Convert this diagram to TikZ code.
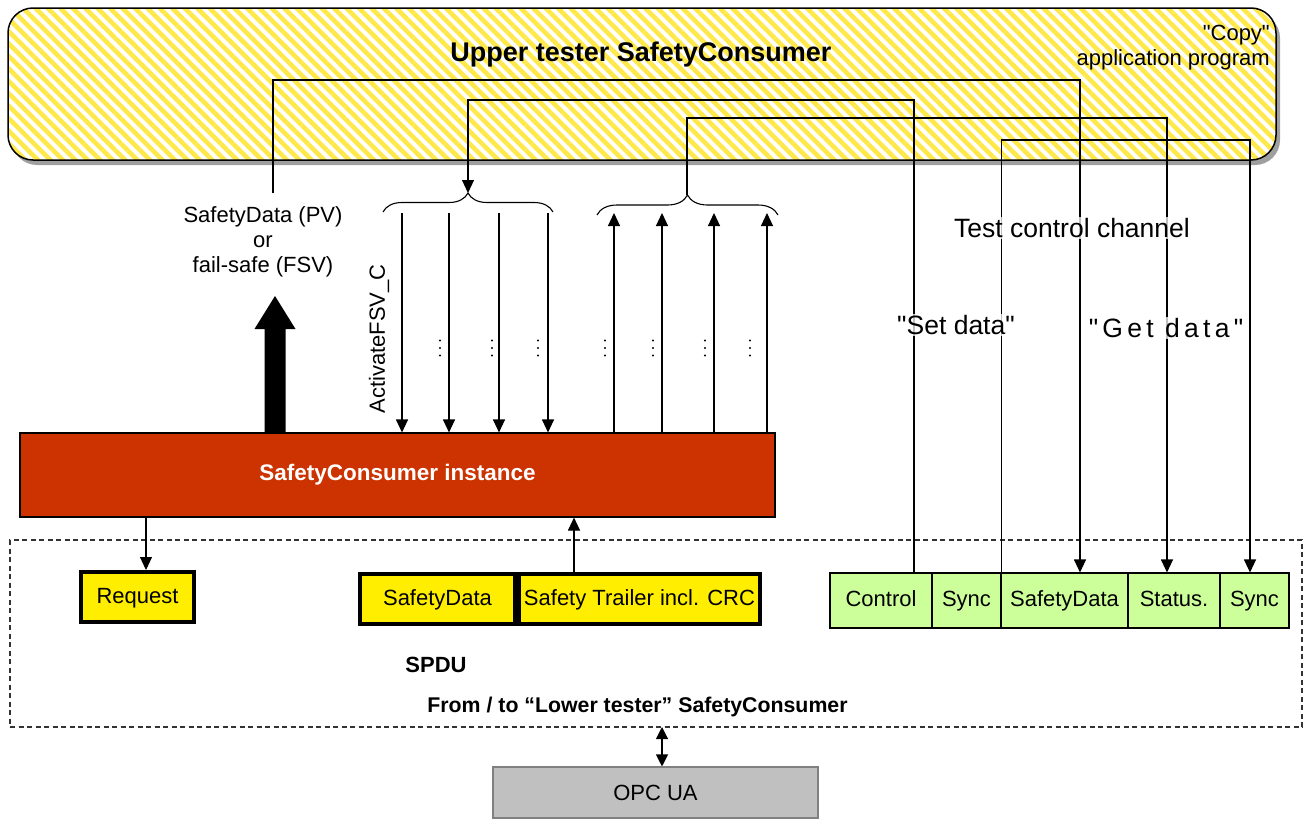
\documentclass[tikz,border=0pt]{standalone}
\usepackage{fontspec}
\setmainfont{Liberation Sans}[Ligatures=TeXOff]
\usepackage{tikz}
\usepackage{tkz-euclide}
\usetikzlibrary{arrows.meta,calc,patterns.meta,shadows,decorations.pathreplacing}
\definecolor{stripe}{HTML}{FFE84A}
\definecolor{instred}{HTML}{CC3300}
\definecolor{spduyellow}{HTML}{FFEE00}
\definecolor{chgreen}{HTML}{CCFF99}
\definecolor{opcgray}{HTML}{C0C0C0}
\newcommand\threedots[2]{\foreach \d in {-7.5,0,7.5}{\fill (#1,#2+\d) circle (1.2pt);}}
\begin{document}
\begin{tikzpicture}[x=1pt,y=-1pt,
  ln/.style={line width=1.1pt},
  arr/.style={ln,-{Triangle[length=13pt,width=12pt]}},
  txt/.style={font=\fontsize{22}{25}\selectfont},
  bigtxt/.style={font=\fontsize{26.5}{30}\selectfont},
  lbl/.style={bigtxt,fill=white,fill opacity=0.75,text opacity=1,inner sep=1pt},
  spdubox/.style={draw,line width=4pt,fill=spduyellow,minimum height=50,inner sep=0,txt,text height=16pt,text depth=4pt},
  chanbox/.style={draw,ln,fill=chgreen,minimum height=55,inner sep=0,txt,text height=16pt,text depth=4pt}]
    \useasboundingbox (0,0) rectangle (1308,819);
    \node[draw,line width=1.5pt,rounded corners=25pt,minimum width=1268,minimum height=152,
      drop shadow={shadow xshift=4pt,shadow yshift=-5pt,fill=gray!75,opacity=1},preaction={fill=white},
      pattern={Lines[angle=-45,distance=8.8pt,line width=4.6pt]},pattern color=stripe] (upper) at (642,84) {};
    \node[font=\bfseries\fontsize{27}{30}\selectfont] (title) at (641,55) {Upper tester SafetyConsumer};
    \node[txt,align=right,anchor=north east,inner sep=0] (copy) at (1270,25) {"Copy"\\application program};
    \node[draw,ln,fill=instred,minimum width=755,minimum height=84,text=white,
      font=\bfseries\fontsize{22.5}{25}\selectfont] (inst) at (397.5,475) {SafetyConsumer instance};
    \node[draw,ln,dashed,dash pattern=on 5pt off 3.5pt,draw=black!80,minimum width=1292,minimum height=187] (frame) at (656,633.5) {};
    \node[spdubox,minimum width=113] (req) at (137.5,597) {Request};
    \node[spdubox,minimum width=155] (sd) at (437.5,599) {SafetyData};
    \node[spdubox,minimum width=241] (trl) at (639.5,599) {Safety Trailer incl. CRC};
    \node[font=\bfseries\fontsize{22}{25}\selectfont] (spdu) at (436,665) {SPDU};
    \node[font=\bfseries\fontsize{21.3}{25}\selectfont] (lower) at (637.5,707) {From / to “Lower tester” SafetyConsumer};
    \node[chanbox,minimum width=102] (ctrl) at (881,600.5) {Control};
    \node[chanbox,minimum width=69] (sync_1) at (966.5,600.5) {Sync};
    \node[chanbox,minimum width=127] (gsd) at (1064.5,600.5) {SafetyData};
    \node[chanbox,minimum width=92] (stat) at (1174,600.5) {Status.};
    \node[chanbox,minimum width=69] (sync_2) at (1254.5,600.5) {Sync};
    \node[draw=gray,ln,fill=opcgray,minimum width=325,minimum height=51,txt] (opc) at (655.5,792.5) {OPC UA};
    \node[txt,align=center] (pv) at (263,242) {SafetyData (PV)\\or\\fail-safe (FSV)};
    \node[txt,rotate=90] (afsv) at (379,339) {ActivateFSV\_C};
    \tkzDefPoint(273,193){pv_top}
    \tkzDefPoint(1080,80){k_1}
    \tkzDefPoint(914,100){k_2}
    \tkzDefPoint(1167,118){k_3}
    \tkzDefPoint(1250,140){k_5}
    \tkzDefPoint(468,193){t_1}
    \tkzDefPoint(687,195){t_2}
    \tkzDefPoint(146,517){r_1}
    \tkzDefPoint(574,572){s_1}
    \tkzDefPoint(662,727){o_1}
    \draw[ln,decorate,decoration={brace,amplitude=19pt}] (383,212) -- (553,212);
    \draw[ln,decorate,decoration={brace,amplitude=20pt}] (597,215) -- (778,215);
    \foreach \x [count=\i] in {402,449,499,548}{
      \coordinate (d_\i) at (\x,213);
      \draw[arr] (d_\i) -- (d_\i |- inst.north);}
    \foreach \x [count=\i] in {614,662,714,767}{
      \coordinate (u_\i) at (\x,213);
      \draw[arr] (u_\i |- inst.north) -- (u_\i);}
    \threedots{440}{348}
    \threedots{492}{348}
    \threedots{538}{348}
    \threedots{605}{348}
    \threedots{653}{348}
    \threedots{705}{348}
    \threedots{750}{348}
    \coordinate (pv_base) at (275,433);
    \fill (pv_base) ++(-10.5,0) -- ++(0,-104) -- ++(-10,0) -- ++(20.5,-33) -- ++(20.5,33) -- ++(-10,0) -- ++(0,104) -- cycle;
    \draw[arr] (pv_top) |- (k_1) -- (k_1 |- gsd.north);
    \draw[arr] (k_2 |- ctrl.north) -- (k_2) -| (t_1);
    \draw[arr] (t_2) |- (k_3) -- (k_3 |- stat.north);
    \draw[arr] (sync_1.north east) |- (k_5) -- (k_5 |- sync_2.north);
    \draw[arr] (r_1) -- (r_1 |- req.north);
    \draw[arr] (s_1 |- trl.north) -- (s_1 |- inst.south);
    \draw[ln,{Triangle[length=12pt,width=12pt]}-{Triangle[length=12pt,width=12pt]}] (o_1) -- (o_1 |- opc.north);
    \node[lbl] (tcc) at (1072,228) {Test control channel};
    \node[lbl] (setd) at (956,325) {"Set data"};
    \node[lbl,font=\fontsize{26.5}{30}\selectfont\addfontfeature{LetterSpace=16}] (getd) at (1166,328) {"Get data"};
\end{tikzpicture}
\end{document}
